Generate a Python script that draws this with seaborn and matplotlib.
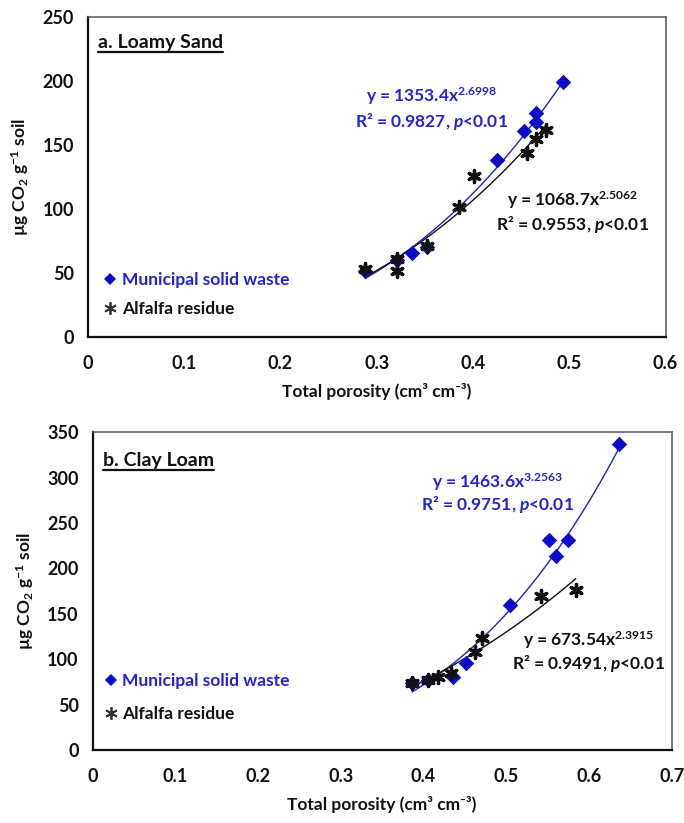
import numpy as np
import pandas as pd
import matplotlib
matplotlib.use("Agg")
import matplotlib.pyplot as plt
import seaborn as sns
from matplotlib.lines import Line2D

sns.set_theme(style="white")
plt.rcParams["font.family"] = ["Lato", "DejaVu Sans"]
plt.rcParams["font.weight"] = "bold"
plt.rcParams["mathtext.fontset"] = "custom"
plt.rcParams["mathtext.rm"] = "Lato:bold"
plt.rcParams["mathtext.it"] = "Lato:bold:italic"
plt.rcParams["mathtext.bf"] = "Lato:bold"

# ---------------- data ----------------
a_msw_x = [0.288, 0.321, 0.337, 0.352, 0.425, 0.453, 0.465, 0.465, 0.494]
a_msw_y = [51.4, 60.0, 65.5, 70.2, 138.3, 161.2, 168.3, 175.3, 199.6]
a_alf_x = [0.288, 0.321, 0.321, 0.352, 0.385, 0.401, 0.456, 0.465, 0.476]
a_alf_y = [52.9, 60.8, 51.6, 71.2, 101.8, 125.8, 144.0, 154.7, 161.8]

b_msw_x = [0.386, 0.405, 0.436, 0.451, 0.504, 0.552, 0.560, 0.575, 0.636]
b_msw_y = [73.5, 77.1, 80.7, 95.4, 159.7, 231.4, 213.8, 231.4, 336.8]
b_alf_x = [0.386, 0.405, 0.418, 0.433, 0.462, 0.471, 0.542, 0.584]
b_alf_y = [74.0, 77.0, 80.0, 85.0, 108.0, 123.0, 170.0, 176.0]

series_labels = ["Municipal solid waste", "Alfalfa residue"]
panel_titles = ["a. Loamy Sand", "b. Clay Loam"]
eq_a_msw = ["y = 1353.4x$^{2.6998}$", "R² = 0.9827, $\\mathit{p}$<0.01"]
eq_a_alf = ["y = 1068.7x$^{2.5062}$", "R² = 0.9553, $\\mathit{p}$<0.01"]
eq_b_msw = ["y = 1463.6x$^{3.2563}$", "R² = 0.9751, $\\mathit{p}$<0.01"]
eq_b_alf = ["y = 673.54x$^{2.3915}$", "R² = 0.9491, $\\mathit{p}$<0.01"]

xticks_a = [0, 0.1, 0.2, 0.3, 0.4, 0.5, 0.6]
yticks_a = [0, 50, 100, 150, 200, 250]
xticks_b = [0, 0.1, 0.2, 0.3, 0.4, 0.5, 0.6, 0.7]
yticks_b = [0, 50, 100, 150, 200, 250, 300, 350]

BLUE = "#0A0AC8"
TBLUE = "#2424CC"
BLACK = "#111111"
ALF_MARK = (6, 2, 0)

fig = plt.figure(figsize=(6.84, 8.23), dpi=100)
ax_a = fig.add_axes([0.1285, 0.591, 0.8445, 0.388])
ax_b = fig.add_axes([0.1355, 0.0887, 0.8465, 0.386])


def power_fit(x, y):
    m, c = np.polyfit(np.log(x), np.log(y), 1)
    xs = np.linspace(min(x), max(x), 120)
    return xs, np.exp(c) * xs ** m


def draw_panel(ax, mx, my, axx, ay, xticks, yticks, title, eq_m, eq_a,
               pos_m, pos_a, leg_anchor, leg_space):
    dm = pd.DataFrame({"x": mx, "y": my})
    da = pd.DataFrame({"x": axx, "y": ay})
    xs, ys = power_fit(mx, my)
    sns.lineplot(x=xs, y=ys, ax=ax, color="#2020D0", lw=1.0, zorder=2)
    xs2, ys2 = power_fit(axx, ay)
    sns.lineplot(x=xs2, y=ys2, ax=ax, color=BLACK, lw=1.0, zorder=2)
    sns.scatterplot(data=dm, x="x", y="y", ax=ax, marker="D", s=62,
                    color=BLUE, linewidth=0, zorder=3)
    sns.scatterplot(data=da, x="x", y="y", ax=ax, marker=ALF_MARK, s=75,
                    color=BLACK, linewidth=2.4, zorder=4)

    ax.set_xlim(xticks[0], xticks[-1])
    ax.set_ylim(yticks[0], yticks[-1])
    ax.set_xticks(xticks)
    ax.set_yticks(yticks)
    ax.set_xticklabels([("%g" % t) for t in xticks])
    ax.set_yticklabels([("%g" % t) for t in yticks])
    ax.tick_params(axis="both", direction="out", length=5, width=1.3,
                   labelsize=13, colors=BLACK, pad=5)
    ax.tick_params(axis="x", pad=8)
    for s in ["left", "bottom"]:
        ax.spines[s].set_color("#111111")
        ax.spines[s].set_linewidth(1.6)
    for s in ["top", "right"]:
        ax.spines[s].set_color("#555555")
        ax.spines[s].set_linewidth(1.1)
    ax.set_xlabel("Total porosity (cm³ cm⁻³)", fontsize=12.5, fontweight="bold",
                  color=BLACK, labelpad=8)
    ax.set_ylabel("µg CO$_2$ g$^{-1}$ soil", fontsize=12.5, fontweight="bold",
                  color=BLACK, labelpad=8)

    t = ax.text(0.018, pos_m[2], title, transform=ax.transAxes,
                fontsize=14, fontweight="bold", color=BLACK, va="top", ha="left")

    fs = 12.5
    ax.text(pos_m[0], pos_m[1], eq_m[0], color=TBLUE, fontsize=fs,
            ha="center", va="center")
    ax.text(pos_m[0], pos_m[1] - pos_m[3], eq_m[1], color=TBLUE, fontsize=fs,
            ha="center", va="center")
    ax.text(pos_a[0], pos_a[1], eq_a[0], color=BLACK, fontsize=fs,
            ha="center", va="center")
    ax.text(pos_a[0], pos_a[1] - pos_a[2], eq_a[1], color=BLACK, fontsize=fs,
            ha="center", va="center")

    handles = [
        Line2D([], [], marker="D", color=BLUE, ls="none", ms=6.5, mew=0),
        Line2D([], [], marker=ALF_MARK, color="#333333", ls="none", ms=9, mew=1.3),
    ]
    ax.legend(handles, series_labels, loc="upper left", bbox_to_anchor=leg_anchor,
              frameon=False, borderpad=0, borderaxespad=0, handlelength=0.7,
              handletextpad=0.3, labelspacing=leg_space,
              labelcolor=[TBLUE, BLACK], prop={"size": 12.5, "weight": "bold"})
    return t


t_a = draw_panel(ax_a, a_msw_x, a_msw_y, a_alf_x, a_alf_y, xticks_a, yticks_a,
                 panel_titles[0], eq_a_msw, eq_a_alf,
                 (0.357, 188.0, 0.948, 19.5), (0.503, 107.0, 19.0),
                 (0.0285, 0.202), 0.75)
t_b = draw_panel(ax_b, b_msw_x, b_msw_y, b_alf_x, b_alf_y, xticks_b, yticks_b,
                 panel_titles[1], eq_b_msw, eq_b_alf,
                 (0.489, 295.6, 0.939, 25.6), (0.600, 121.0, 25.2),
                 (0.0215, 0.241), 0.95)

# underline the panel titles
fig.canvas.draw()
renderer = fig.canvas.get_renderer()
for ax, t in [(ax_a, t_a), (ax_b, t_b)]:
    bb = t.get_window_extent(renderer).transformed(ax.transAxes.inverted())
    yline = bb.y0 - 0.004
    ax.add_line(Line2D([bb.x0, bb.x1], [yline, yline], transform=ax.transAxes,
                       color=BLACK, lw=1.6))

fig.savefig("out.png", dpi=100, facecolor="white")
